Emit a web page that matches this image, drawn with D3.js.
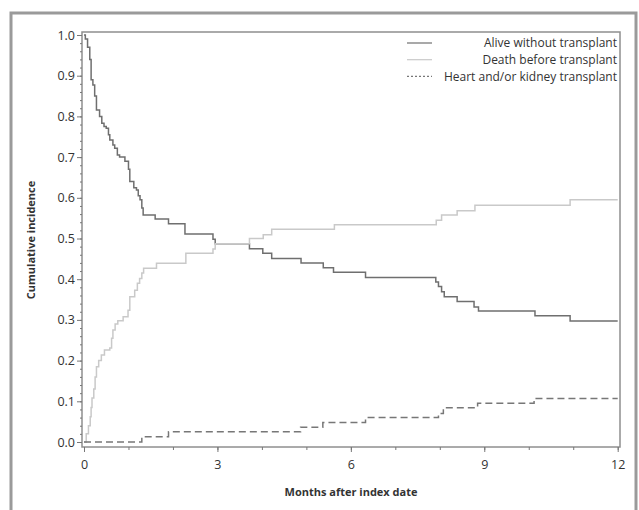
<!DOCTYPE html>
<html>
<head>
<meta charset="utf-8">
<script src="https://cdnjs.cloudflare.com/ajax/libs/d3/7.8.5/d3.min.js"></script>
<style>
	body { margin: 0; background: #fff; }
	text { font-family: "Open Sans", sans-serif; fill: #333; }
</style>
</head>
<body>
<div id="chart"></div>
<script>
// step curves, each value holds from its time onward (months)
var aliveTime = [0, 0.03, 0.08, 0.13, 0.16, 0.2, 0.24, 0.28, 0.35, 0.4, 0.45, 0.5, 0.55, 0.58, 0.65, 0.69, 0.75, 0.8, 0.92, 1.0, 1.03, 1.12, 1.18, 1.22, 1.26, 1.3, 1.33, 1.6, 1.9, 2.27, 2.9, 2.95, 3.72, 4.02, 4.22, 4.88, 5.38, 5.61, 6.33, 7.91, 7.97, 8.04, 8.1, 8.39, 8.77, 8.87, 10.14, 10.93, 12];
var aliveValue = [1.0, 0.99, 0.97, 0.94, 0.89, 0.877, 0.85, 0.816, 0.8, 0.783, 0.775, 0.771, 0.755, 0.742, 0.73, 0.722, 0.705, 0.7, 0.69, 0.67, 0.64, 0.625, 0.619, 0.605, 0.595, 0.575, 0.558, 0.548, 0.536, 0.511, 0.498, 0.487, 0.475, 0.464, 0.451, 0.44, 0.428, 0.417, 0.404, 0.393, 0.382, 0.369, 0.357, 0.345, 0.332, 0.322, 0.31, 0.297, 0.297];

var deathTime = [0, 0.05, 0.1, 0.14, 0.16, 0.18, 0.22, 0.25, 0.28, 0.33, 0.39, 0.46, 0.58, 0.62, 0.65, 0.7, 0.76, 0.88, 0.99, 1.03, 1.14, 1.2, 1.25, 1.3, 1.34, 1.63, 2.29, 2.9, 2.95, 3.72, 4.03, 4.22, 5.63, 7.92, 8.04, 8.39, 8.79, 10.93, 12];
var deathValue = [0, 0.02, 0.04, 0.062, 0.085, 0.108, 0.13, 0.16, 0.185, 0.2, 0.214, 0.226, 0.231, 0.255, 0.275, 0.29, 0.298, 0.308, 0.324, 0.357, 0.373, 0.39, 0.402, 0.415, 0.427, 0.439, 0.464, 0.474, 0.487, 0.5, 0.509, 0.523, 0.534, 0.545, 0.558, 0.568, 0.582, 0.595, 0.595];

var transTime = [0, 1.3, 1.9, 4.87, 5.37, 6.33, 7.97, 8.08, 8.85, 10.12, 12];
var transValue = [0, 0.013, 0.025, 0.036, 0.048, 0.06, 0.07, 0.084, 0.095, 0.107, 0.107];

var seriesNames = ["Alive without transplant", "Death before transplant", "Heart and/or kidney transplant"];
var xTicks = [0, 3, 6, 9, 12];
var yTicks = [0, 0.1, 0.2, 0.3, 0.4, 0.5, 0.6, 0.7, 0.8, 0.9, 1.0];

var width = 639, height = 510;

var svg = d3.select("#chart").append("svg")
	.attr("width", width)
	.attr("height", height);

// outer frame
svg.append("rect")
	.attr("x", 11).attr("y", 13)
	.attr("width", 625).attr("height", 520)
	.attr("fill", "none")
	.attr("stroke", "#9a9a9a")
	.attr("stroke-width", 3);

var x = d3.scaleLinear().domain([0, 12]).range([84, 617.7]);
var y = d3.scaleLinear().domain([0, 1]).range([442, 35]);

// plot box
svg.append("rect")
	.attr("x", 82).attr("y", 32)
	.attr("width", 538).attr("height", 415)
	.attr("fill", "none")
	.attr("stroke", "#8f8f8f")
	.attr("stroke-width", 1.5);

// y axis
var yAxis = d3.axisLeft(y).tickValues(yTicks).tickFormat(d3.format(".1f")).tickSize(5).tickPadding(2);
var gy = svg.append("g").attr("transform", "translate(82,0)").call(yAxis);
var yMinor = d3.axisLeft(y).tickValues(d3.range(0, 1.001, 0.02)).tickSize(2).tickFormat("");
var gym = svg.append("g").attr("transform", "translate(82,0)").call(yMinor);

// x axis
var xAxis = d3.axisBottom(x).tickValues(xTicks).tickSize(5).tickPadding(8);
var gx = svg.append("g").attr("transform", "translate(0,447)").call(xAxis);
var xMinor = d3.axisBottom(x).tickValues(d3.range(0, 13, 1)).tickSize(3).tickFormat("");
var gxm = svg.append("g").attr("transform", "translate(0,447)").call(xMinor);

[gy, gym, gx, gxm].forEach(function(g) {
	g.select(".domain").remove();
	g.selectAll("line").attr("stroke", "#777");
	g.selectAll("text").style("font-size", "12.5px").attr("fill", "#333");
});

// step lines
var line = d3.line()
	.x(function(d) { return x(d[0]); })
	.y(function(d) { return y(d[1]); })
	.curve(d3.curveStepAfter);

function pairs(t, v) {
	return t.map(function(d, i) { return [d, v[i]]; });
}

var styles = [
	{stroke: "#6f6f6f", dash: null},
	{stroke: "#c9c9c9", dash: null},
	{stroke: "#777", dash: "7,4"}
];

var data = [pairs(aliveTime, aliveValue), pairs(deathTime, deathValue), pairs(transTime, transValue)];

svg.selectAll("path.curve")
	.data(data)
	.enter().append("path")
	.attr("class", "curve")
	.attr("d", line)
	.attr("fill", "none")
	.attr("stroke", function(d, i) { return styles[i].stroke; })
	.attr("stroke-width", 1.5)
	.attr("stroke-dasharray", function(d, i) { return styles[i].dash; });

// legend
var legend = svg.selectAll("g.legend")
	.data(seriesNames)
	.enter().append("g")
	.attr("class", "legend")
	.attr("transform", function(d, i) { return "translate(0," + (43 + i * 16.7) + ")"; });

legend.append("line")
	.attr("x1", 407).attr("x2", 432)
	.attr("y1", 0).attr("y2", 0)
	.attr("stroke", function(d, i) { return styles[i].stroke; })
	.attr("stroke-width", 1.2)
	.attr("stroke-dasharray", function(d, i) { return i == 2 ? "2,2" : null; });

legend.append("text")
	.attr("x", 617).attr("y", 0)
	.attr("dy", "0.35em")
	.style("text-anchor", "end")
	.style("font-size", "12px")
	.text(function(d) { return d; });

// axis titles
svg.append("text")
	.attr("x", 351).attr("y", 496)
	.style("text-anchor", "middle")
	.style("font-size", "11px")
	.style("font-weight", "bold")
	.attr("fill", "#222")
	.text("Months after index date");

svg.append("text")
	.attr("transform", "translate(35,240) rotate(-90)")
	.style("text-anchor", "middle")
	.style("font-size", "11px")
	.style("font-weight", "bold")
	.attr("fill", "#222")
	.text("Cumulative incidence");
</script>
</body>
</html>
